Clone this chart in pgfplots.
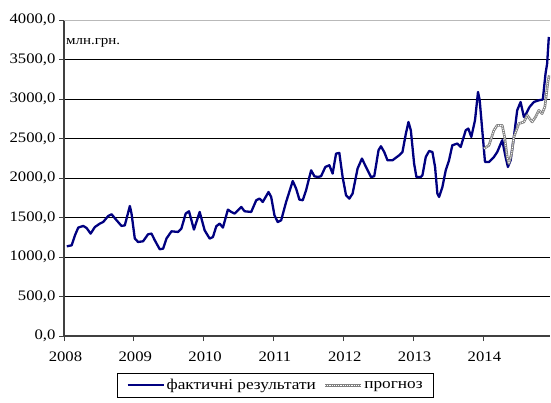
\documentclass[border=0pt]{standalone}
\usepackage{fontspec}
\setmainfont{Liberation Serif}[FakeStretch=1.15]
\usepackage{pgfplots}
\pgfplotsset{compat=1.18}
\usetikzlibrary{calc}
\definecolor{navyline}{RGB}{0,0,128}
\begin{document}
\begin{tikzpicture}
\begin{axis}[name=ax, scale only axis, width=486bp, height=316bp,
  xmin=2008, xmax=2014.96, ymin=0, ymax=4000,
  axis lines=left, axis line style={-, draw=black!75, line width=1.2bp},
  ytick={0,500,...,3500}, extra y ticks={4000},
  extra y tick style={grid style={draw=gray!55, line width=0.8bp}},
  ymajorgrids, grid style={draw=black, line width=0.8bp},
  xtick={2008,...,2014}, minor x tick num=11,
  tick align=outside, major tick length=5bp, minor tick length=4bp,
  tick style={black!75, line width=0.8bp},
  /pgf/number format/assume math mode=true,
  yticklabel style={/pgf/number format/.cd, fixed, fixed zerofill, precision=1, use comma, 1000 sep={}},
  xticklabel style={/pgf/number format/1000 sep={}, yshift=-7bp, xshift=1.5bp},
  ticklabel style={font=\fontsize{14.5bp}{17bp}\selectfont},
  legend columns=2,
  legend style={at={(0.109,-0.117)}, anchor=north west, draw=black, line width=0.8bp,
    font=\fontsize{15bp}{18bp}\selectfont, inner xsep=9bp, inner ysep=4bp,
    /tikz/every even column/.append style={column sep=6bp}},
  legend image code/.code={\draw[#1] (0bp,0bp) -- (36bp,0bp);},
]
\addplot[navyline, line width=2.3bp, line join=round] coordinates {
(2008.04,1135) (2008.11,1148) (2008.157,1275) (2008.204,1372) (2008.276,1393) (2008.324,1367)
(2008.381,1296) (2008.443,1380) (2008.514,1423) (2008.561,1443) (2008.633,1519) (2008.681,1541)
(2008.753,1465) (2008.824,1393) (2008.871,1401) (2008.943,1646) (2008.967,1550) (2009.014,1233)
(2009.061,1190) (2009.133,1199) (2009.204,1288) (2009.253,1296) (2009.300,1212) (2009.371,1098)
(2009.419,1106) (2009.467,1233) (2009.539,1325) (2009.633,1317) (2009.681,1360) (2009.743,1550)
(2009.790,1579) (2009.861,1347) (2009.943,1570) (2010.014,1338) (2010.086,1233) (2010.133,1253)
(2010.181,1389) (2010.229,1423) (2010.276,1372) (2010.347,1600) (2010.396,1570) (2010.443,1550)
(2010.539,1633) (2010.586,1579) (2010.681,1570) (2010.753,1718) (2010.800,1739) (2010.847,1697)
(2010.929,1823) (2010.967,1760) (2011.014,1528) (2011.061,1443) (2011.110,1465) (2011.181,1697)
(2011.276,1962) (2011.324,1866) (2011.371,1727) (2011.419,1718) (2011.467,1844) (2011.539,2098)
(2011.586,2022) (2011.633,2013) (2011.681,2022) (2011.743,2140) (2011.800,2161) (2011.847,2056)
(2011.896,2309) (2011.943,2317) (2011.990,2013) (2012.039,1781) (2012.086,1739) (2012.133,1803)
(2012.204,2119) (2012.267,2246) (2012.324,2140) (2012.396,2013) (2012.443,2022) (2012.504,2351)
(2012.539,2402) (2012.586,2329) (2012.633,2224) (2012.704,2224) (2012.800,2288) (2012.847,2329)
(2012.896,2562) (2012.933,2709) (2012.967,2604) (2013.014,2182) (2013.047,2013) (2013.110,2013)
(2013.133,2034) (2013.181,2266) (2013.229,2342) (2013.276,2329) (2013.314,2140) (2013.347,1803)
(2013.371,1760) (2013.419,1886) (2013.467,2098) (2013.514,2224) (2013.561,2414) (2013.633,2436)
(2013.681,2393) (2013.753,2604) (2013.790,2626) (2013.833,2520) (2013.886,2731) (2013.929,3089)
(2013.953,2984) (2013.990,2604) (2014.029,2203) (2014.086,2203) (2014.157,2266) (2014.204,2329)
(2014.276,2478) (2014.324,2266) (2014.357,2140) (2014.396,2224) (2014.443,2520) (2014.490,2857)
(2014.539,2962) (2014.586,2772) (2014.619,2815) (2014.667,2899) (2014.729,2962) (2014.800,2984)
(2014.857,2993) (2014.896,3322) (2014.919,3448) (2014.943,3785)
};
\addlegendentry{фактичні результати}
\addplot[gray, line width=2.6bp, line join=round,
  postaction={draw=white, line width=0.9bp, dash pattern=on 1.1bp off 1.1bp}] coordinates {
(2014.014,2372) (2014.086,2414) (2014.157,2604) (2014.204,2667) (2014.276,2667) (2014.310,2520)
(2014.347,2266) (2014.371,2182) (2014.410,2309) (2014.443,2520) (2014.514,2689) (2014.586,2709)
(2014.633,2794) (2014.704,2709) (2014.753,2772) (2014.800,2857) (2014.847,2815) (2014.886,2899)
(2014.933,3237) (2014.950,3300)
};
\addlegendentry{прогноз}
\node[anchor=west, font=\fontsize{13bp}{15bp}\selectfont, inner sep=0pt] at (rel axis cs:0.004,0.927) {млн.грн.};
\end{axis}
\pgfresetboundingbox
\path[use as bounding box] ($(ax.south west)+(-64bp,-67bp)$) rectangle ($(ax.north east)+(1bp,20bp)$);
\end{tikzpicture}
\end{document}
